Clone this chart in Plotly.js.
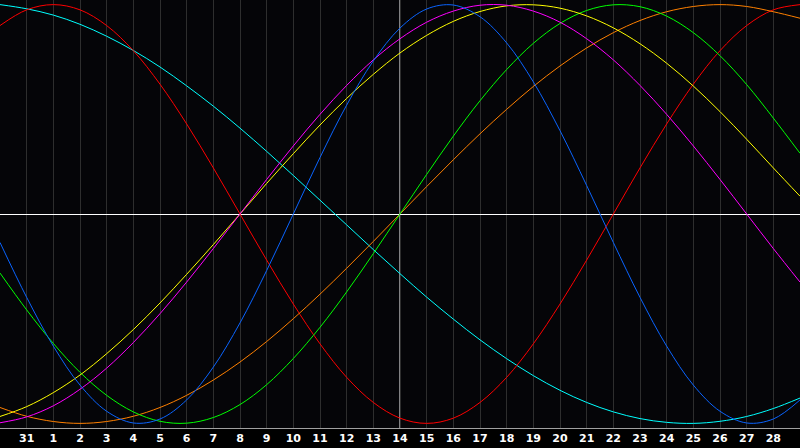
<!DOCTYPE html>
<html>
<head>
<meta charset="utf-8">
<script src="https://cdn.plot.ly/plotly-3.0.1.min.js"></script>
<style>html,body{margin:0;padding:0;background:#000;}#chart{width:800px;height:448px;}</style>
</head>
<body>
<div id="chart"></div>
<script>
// Day positions (0..30) and tick labels
var days = [0,1,2,3,4,5,6,7,8,9,10,11,12,13,14,15,16,17,18,19,20,21,22,23,24,25,26,27,28,29,30];
var tickPositions = [1,2,3,4,5,6,7,8,9,10,11,12,13,14,15,16,17,18,19,20,21,22,23,24,25,26,27,28,29];
var tickLabels = ['31','1','2','3','4','5','6','7','8','9','10','11','12','13','14','15','16','17','18','19','20','21','22','23','24','25','26','27','28'];
var todayPos = 15;

// Values (range -1..1)
var redVals = [0.90,0.975,1.00,0.975,0.90,0.78,0.62,0.43,0.22,0,-0.22,-0.43,-0.62,-0.78,-0.90,-0.975,-1.00,-0.975,-0.90,-0.78,-0.62,-0.43,-0.22,0,0.22,0.43,0.62,0.78,0.90,0.975,1.00];
var blueVals = [-0.136,-0.398,-0.631,-0.817,-0.942,-0.998,-0.979,-0.888,-0.731,-0.520,-0.270,0,0.270,0.520,0.731,0.888,0.979,0.998,0.942,0.817,0.631,0.398,0.136,-0.136,-0.398,-0.631,-0.817,-0.942,-0.998,-0.979,-0.888];
var greenVals = [-0.282,-0.458,-0.618,-0.756,-0.866,-0.945,-0.990,-0.999,-0.972,-0.910,-0.815,-0.690,-0.541,-0.372,-0.189,0,0.189,0.372,0.541,0.690,0.815,0.910,0.972,0.999,0.990,0.945,0.866,0.756,0.618,0.458,0.290];
var orangeVals = [-0.924,-0.966,-0.991,-1.000,-0.991,-0.966,-0.924,-0.866,-0.793,-0.707,-0.609,-0.500,-0.383,-0.259,-0.131,0,0.131,0.259,0.383,0.500,0.609,0.707,0.793,0.866,0.924,0.966,0.991,1.000,0.991,0.966,0.935];
var magentaVals = [-0.997,-0.969,-0.916,-0.837,-0.736,-0.614,-0.476,-0.325,-0.165,0,0.165,0.325,0.476,0.614,0.736,0.837,0.916,0.969,0.997,0.997,0.969,0.916,0.837,0.736,0.614,0.476,0.325,0.165,0,-0.165,-0.325];
var yellowVals = [-0.967,-0.920,-0.853,-0.769,-0.667,-0.552,-0.425,-0.288,-0.146,0,0.146,0.288,0.425,0.552,0.667,0.769,0.853,0.920,0.967,0.994,0.999,0.983,0.946,0.889,0.813,0.720,0.611,0.489,0.357,0.220,0.085];
var cyanVals = [1.000,0.980,0.950,0.906,0.849,0.781,0.702,0.612,0.515,0.410,0.299,0.184,0.066,-0.052,-0.170,-0.285,-0.397,-0.502,-0.601,-0.691,-0.772,-0.842,-0.900,-0.945,-0.977,-0.995,-1.000,-0.990,-0.967,-0.929,-0.879];

var seriesList = [
  {vals: cyanVals, color: '#00ffff'},
  {vals: redVals, color: '#ff0000'},
  {vals: orangeVals, color: '#ff8000'},
  {vals: greenVals, color: '#00ff00'},
  {vals: yellowVals, color: '#ffff00'},
  {vals: magentaVals, color: '#ff00ff'},
  {vals: blueVals, color: '#0a64ff'}
];

var traces = seriesList.map(function(s){
  return {x: days, y: s.vals, mode: 'lines', type: 'scatter',
          line: {color: s.color, width: 1, shape: 'spline', smoothing: 1.0},
          hoverinfo: 'skip', showlegend: false};
});

var layout = {
  width: 800, height: 448,
  margin: {l: 0, r: 0, t: 0, b: 20, pad: 0},
  paper_bgcolor: '#000000',
  plot_bgcolor: '#050508',
  showlegend: false,
  xaxis: {
    range: [0, 30], fixedrange: true,
    tickmode: 'array', tickvals: tickPositions, ticktext: tickLabels,
    showgrid: true, gridcolor: '#2e2e2e', gridwidth: 1,
    zeroline: false, ticks: '', ticklen: 0,
    showline: true, linecolor: '#a0a0a0', linewidth: 1, mirror: true,
    tickfont: {family: 'DejaVu Sans, sans-serif', size: 11, color: '#ffffff', weight: 'bold'},
    automargin: false
  },
  yaxis: {
    range: [-1.022, 1.022], fixedrange: true,
    showgrid: false, showticklabels: false, ticks: '',
    zeroline: true, zerolinecolor: '#ffffff', zerolinewidth: 1,
    showline: true, linecolor: '#a0a0a0', linewidth: 1, mirror: true,
    automargin: false
  },
  shapes: [
    {type: 'line', xref: 'x', yref: 'paper', x0: todayPos, x1: todayPos, y0: 0, y1: 1,
     line: {color: '#ffffff', width: 1}, layer: 'between'}
  ]
};

Plotly.newPlot('chart', traces, layout, {displayModeBar: false, staticPlot: true});
</script>
</body>
</html>
